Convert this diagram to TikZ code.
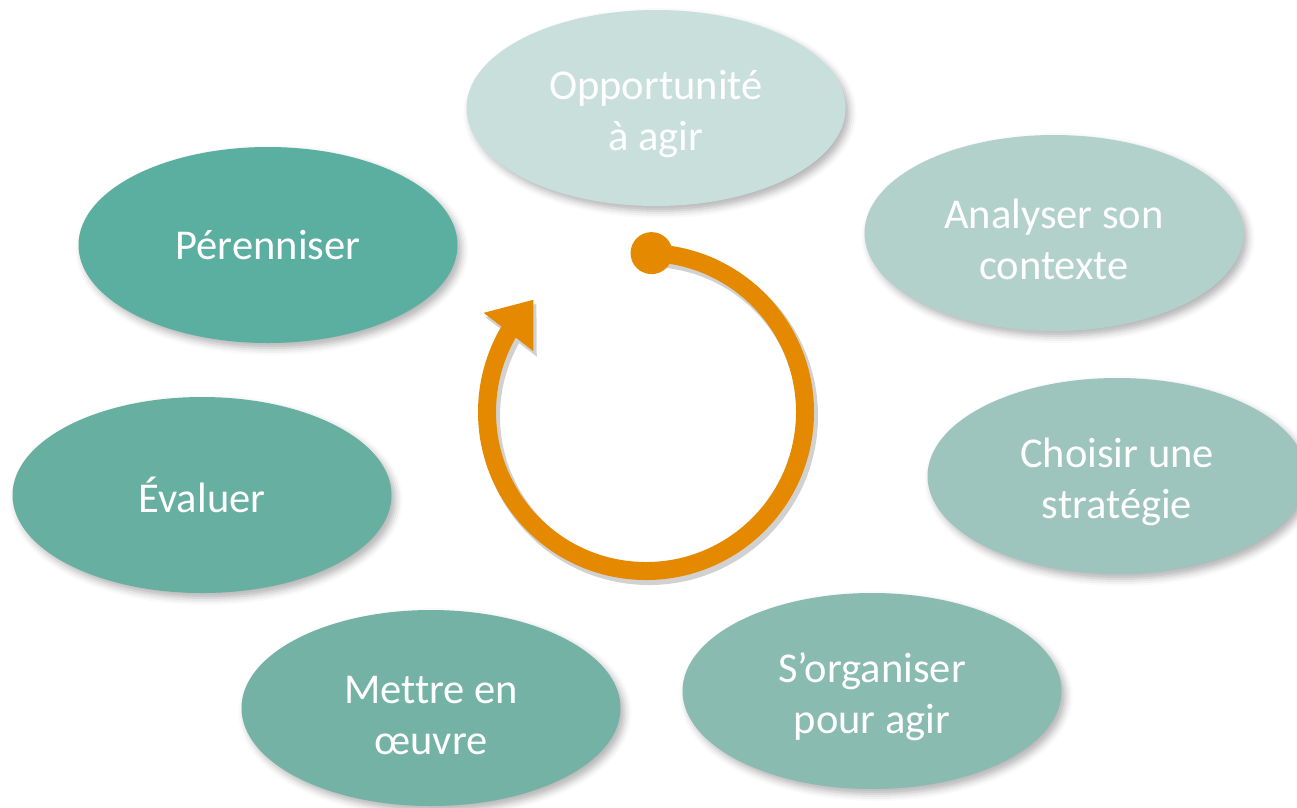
\documentclass[tikz,border=0pt]{standalone}
\usepackage{fontspec}
\setmainfont[Ligatures=NoCommon]{Carlito}
\usetikzlibrary{shapes.geometric,arrows.meta,bending,shadows.blur}
\definecolor{cA}{HTML}{C9DFDB}
\definecolor{cB}{HTML}{B3D1CB}
\definecolor{cC}{HTML}{9EC5BD}
\definecolor{cD}{HTML}{89BBB1}
\definecolor{cE}{HTML}{74B2A6}
\definecolor{cF}{HTML}{66AFA1}
\definecolor{cG}{HTML}{5BAFA0}
\definecolor{ringorange}{HTML}{E58A00}
\newcommand\mytopstrut{\rule{0pt}{42pt}}
\tikzset{
  stage/.style={ellipse, minimum width=379pt, minimum height=196pt, inner sep=0pt,
    text=white, align=center, font=\fontsize{42.5pt}{51pt}\selectfont,
    blur shadow={shadow xshift=4pt, shadow yshift=-5pt, shadow blur radius=7pt, shadow opacity=30}},
  ring/.style={draw=ringorange, line width=18pt},
}
\begin{document}
\begin{tikzpicture}[x=1pt,y=-1pt]
\useasboundingbox (0,0) rectangle (1297,807);
\node[stage, fill=cA] (opp) at (656,108) {\mytopstrut Opportunité\\à agir};
\node[stage, fill=cB] (ana) at (1054,233) {\mytopstrut Analyser son\\contexte};
\node[stage, fill=cC] (cho) at (1117,476) {\mytopstrut Choisir une\\stratégie};
\node[stage, fill=cD] (org) at (872,691) {\mytopstrut S’organiser\\pour agir};
\node[stage, fill=cE] (met) at (431,708) {\mytopstrut Mettre en\\œuvre};
\node[stage, fill=cF] (eva) at (202,495) {Évaluer};
\node[stage, fill=cG] (per) at (268,245) {Pérenniser};
\coordinate (ringc) at (646,412);
\coordinate (ringstart) at ([shift={(-88:159)}]ringc);
\begin{scope}[opacity=0.18, transparency group]
\draw[draw=black, line width=20pt, -{Triangle[width=62pt,length=42pt]}] ([shift={(3,4)}]ringstart) arc[start angle=-88, end angle=225, radius=159];
\end{scope}
\draw[ring, -{Triangle[width=60pt,length=41pt]}] (ringstart) arc[start angle=-88, end angle=225, radius=159];
\fill[ringorange] (ringstart) circle[radius=21];
\end{tikzpicture}
\end{document}
